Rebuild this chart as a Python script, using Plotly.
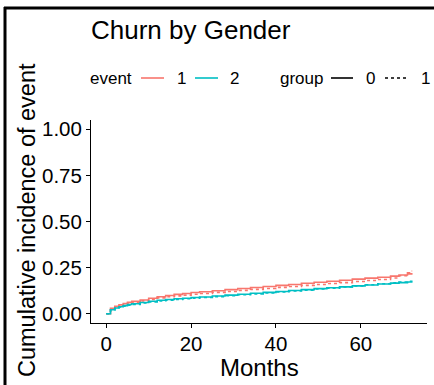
import plotly.graph_objects as go

# Follow-up time (months) at which the cumulative incidence estimates change
months = [0, 1, 2, 3, 4, 5, 6, 8, 10, 12, 14, 16, 18, 20, 22, 25, 28, 31, 34,
          37, 40, 43, 46, 49, 52, 55, 58, 61, 64, 67, 69, 71, 72]

# Cumulative incidence by event type (1, 2) and gender group (0, 1)
cif_event1_group0 = [0, 0.030, 0.040, 0.048, 0.055, 0.062, 0.067, 0.075, 0.084, 0.092, 0.099,
                     0.105, 0.110, 0.115, 0.119, 0.125, 0.131, 0.137, 0.142, 0.148, 0.154,
                     0.159, 0.165, 0.171, 0.176, 0.182, 0.188, 0.193, 0.198, 0.204, 0.210,
                     0.216, 0.221]
cif_event1_group1 = [0, 0.027, 0.037, 0.044, 0.050, 0.057, 0.062, 0.070, 0.078, 0.086, 0.092,
                     0.097, 0.101, 0.106, 0.110, 0.116, 0.121, 0.127, 0.132, 0.137, 0.143,
                     0.148, 0.154, 0.159, 0.164, 0.169, 0.175, 0.180, 0.186, 0.194, 0.206,
                     0.222, 0.233]
cif_event2_group0 = [0, 0.022, 0.031, 0.038, 0.044, 0.050, 0.054, 0.061, 0.068, 0.073, 0.077,
                     0.081, 0.084, 0.088, 0.091, 0.096, 0.101, 0.106, 0.111, 0.116, 0.121,
                     0.126, 0.131, 0.136, 0.141, 0.146, 0.151, 0.156, 0.161, 0.166, 0.169,
                     0.172, 0.174]
cif_event2_group1 = [0, 0.020, 0.028, 0.035, 0.041, 0.047, 0.051, 0.058, 0.064, 0.070, 0.074,
                     0.078, 0.081, 0.085, 0.088, 0.093, 0.098, 0.103, 0.108, 0.113, 0.118,
                     0.123, 0.128, 0.134, 0.139, 0.145, 0.151, 0.157, 0.163, 0.168, 0.172,
                     0.176, 0.180]

event_labels = ["1", "2"]
group_labels = ["0", "1"]
y_ticks = [0, 0.25, 0.5, 0.75, 1.0]
y_ticktext = ["0.00", "0.25", "0.50", "0.75", "1.00"]
x_ticks = [0, 20, 40, 60]

event_colors = {"1": "#F8766D", "2": "#00BFC4"}
group_dash = {"0": "solid", "1": "3px,3px"}

curves = {
    ("1", "0"): cif_event1_group0,
    ("1", "1"): cif_event1_group1,
    ("2", "0"): cif_event2_group0,
    ("2", "1"): cif_event2_group1,
}

FONT = "Liberation Sans, Arial, sans-serif"
W, H = 434, 385
L, R, T, B = 91, 7, 120, 62
pw, ph = W - L - R, H - T - B


def px_x(p):
    return (p - L) / pw


def px_y(p):
    return (H - B - p) / ph


fig = go.Figure()
for (ev, grp), vals in curves.items():
    fig.add_trace(go.Scatter(
        x=months, y=vals, mode="lines", line_shape="hv",
        line=dict(color=event_colors[ev], dash=group_dash[grp], width=1.6),
        showlegend=False,
    ))

# Key row above the panel: colour keys for event, line-type keys for group
LEG_Y = 78
legend_font = dict(size=17, color="black", family=FONT)
key_items = [
    ("title", "event", 89, None, None),
    ("key", "1", 176, (141, 164), dict(color=event_colors["1"], width=1.6)),
    ("key", "2", 229, (195, 218), dict(color=event_colors["2"], width=1.6)),
    ("title", "group", 279, None, None),
    ("key", "0", 365, (331, 353), dict(color="black", width=1.6)),
    ("key", "1", 420, (385, 407), dict(color="black", width=1.6, dash="dot")),
]
annotations = []
shapes = []
for kind, text, tx, seg, line in key_items:
    annotations.append(dict(text=text, xref="paper", yref="paper", x=px_x(tx), y=px_y(LEG_Y),
                            xanchor="left", yanchor="middle", showarrow=False,
                            font=legend_font, xshift=-1))
    if seg is not None:
        shapes.append(dict(type="line", xref="paper", yref="paper",
                           x0=px_x(seg[0]), x1=px_x(seg[1]),
                           y0=px_y(LEG_Y), y1=px_y(LEG_Y), line=line))

# Axis titles
annotations.append(dict(text="Cumulative incidence of event", textangle=-90,
                        xref="paper", yref="paper", x=px_x(27), y=px_y(220),
                        xanchor="center", yanchor="middle", showarrow=False,
                        font=dict(size=23.5, color="black", family=FONT)))
annotations.append(dict(text="Months", xref="paper", yref="paper",
                        x=px_x(259), y=px_y(367), xanchor="center", yanchor="middle",
                        showarrow=False, font=dict(size=24, color="black", family=FONT)))

# Frame lines along the left and top edges
shapes += [
    dict(type="line", xref="paper", yref="paper", x0=px_x(5), x1=px_x(5),
         y0=px_y(7), y1=px_y(H + 5), line=dict(color="black", width=3)),
    dict(type="line", xref="paper", yref="paper", x0=px_x(4), x1=px_x(W + 5),
         y0=px_y(8), y1=px_y(8), line=dict(color="black", width=3)),
]

fig.update_layout(
    width=W, height=H,
    margin=dict(l=L, r=R, t=T, b=B, autoexpand=False),
    paper_bgcolor="white", plot_bgcolor="white",
    font=dict(family=FONT, color="black"),
    showlegend=False,
    title=dict(text="Churn by Gender", x=px_x(91), xref="paper", xanchor="left",
               y=1 - 30 / H, yref="container", yanchor="middle",
               font=dict(size=26, color="black", family=FONT)),
    xaxis=dict(range=[-3.6, 75.6], tickvals=x_ticks, showgrid=False, zeroline=False,
               showline=True, linecolor="black", linewidth=1,
               ticks="outside", ticklen=4, tickcolor="black", ticklabelstandoff=-2,
               tickfont=dict(size=20.5, color="black", family=FONT)),
    yaxis=dict(range=[-0.05, 1.05], tickvals=y_ticks, ticktext=y_ticktext,
               showgrid=False, zeroline=False,
               showline=True, linecolor="black", linewidth=1,
               ticks="outside", ticklen=4, tickcolor="black",
               tickfont=dict(size=20.5, color="black", family=FONT)),
    annotations=annotations,
    shapes=shapes,
)

fig.write_html("out.html")
